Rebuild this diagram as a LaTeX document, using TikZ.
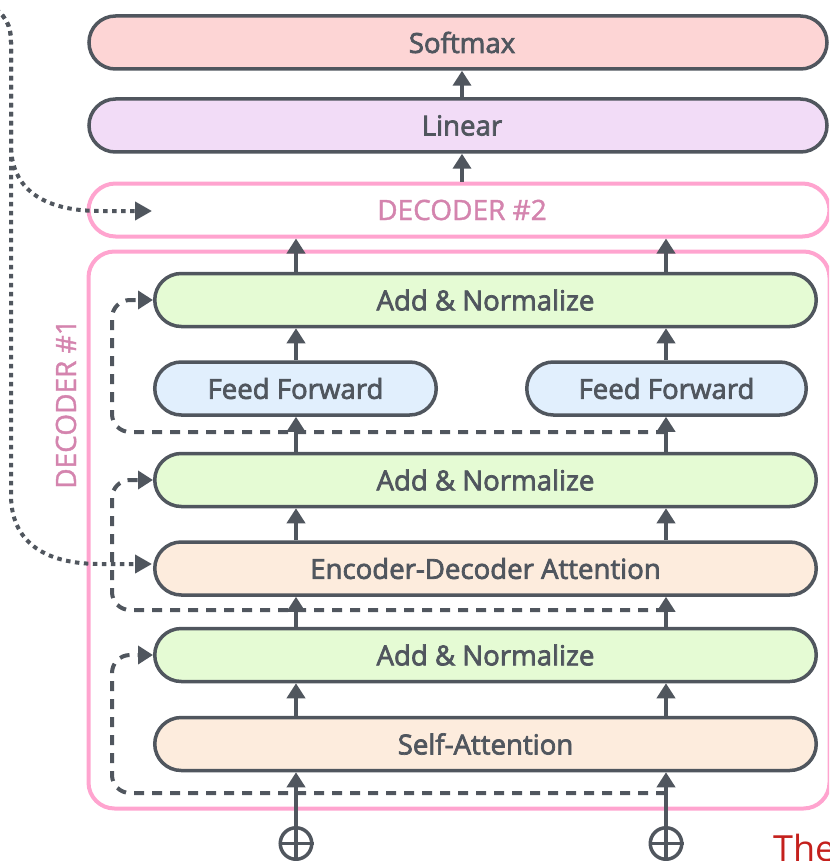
\documentclass[tikz,border=0pt]{standalone}
\usepackage{fontspec}
\setmainfont{Open Sans}
\newfontfamily\layerfont{Open Sans}[FakeBold=2.6]
\newfontfamily\labelfont{Open Sans}[FakeBold=1.4]
\usetikzlibrary{arrows.meta,calc}

\definecolor{ink}{HTML}{50565E}
\definecolor{softmaxfill}{HTML}{FDD5D5}
\definecolor{linearfill}{HTML}{F2DCF7}
\definecolor{normfill}{HTML}{E5FBD4}
\definecolor{fffill}{HTML}{E1EFFD}
\definecolor{attnfill}{HTML}{FDECDD}
\definecolor{decline}{HTML}{FFA4CF}
\definecolor{dectext}{HTML}{D484AE}
\definecolor{capred}{HTML}{C4201C}

\tikzset{
  layer/.style={draw=ink, line width=3.5pt, rounded corners=26.5pt,
    minimum height=53pt, inner sep=0pt, text=ink,
    font=\layerfont\fontsize{27.6}{32}\selectfont},
  decbox/.style={draw=decline, line width=4pt, inner sep=0pt},
  flow/.style={draw=ink, line width=4pt, -{Triangle[length=15pt,width=18pt]}},
  resid/.style={draw=ink, line width=4pt, dash pattern=on 10pt off 8pt,
    rounded corners=18pt, -{Triangle[length=15pt,width=18pt]}},
  dotline/.style={draw=ink, line width=4pt, dash pattern=on 4.5pt off 4.5pt,
    -{Triangle[length=17pt,width=18pt]}},
  addcirc/.style={circle, draw=ink, line width=3.5pt, minimum size=31.5pt,
    inner sep=0pt, fill=white},
  declabel/.style={text=dectext, font=\labelfont\fontsize{28}{32}\selectfont}
}

\begin{document}
\begin{tikzpicture}[x=1pt, y=-1pt]
\useasboundingbox (0,0) rectangle (829,861);
\clip (0,0) rectangle (829,861);

% column positions of the two token streams
\coordinate (colL) at (296,0);
\coordinate (colR) at (666,0);
\coordinate (colM) at (462,0);

% output head
\node[layer, fill=softmaxfill, minimum width=738pt] (softmax) at (458,42.5) {};
\node[text=ink, font=\layerfont\fontsize{27.6}{32}\selectfont] (softmaxtxt) at (462,42.5) {Softmax};
\node[layer, fill=linearfill, minimum width=738pt] (linear) at (458,125.5) {};
\node[text=ink, font=\layerfont\fontsize{27.6}{32}\selectfont] (lineartxt) at (462,125.5) {Linear};

% stacked decoders
\node[decbox, rounded corners=27pt, minimum width=741pt, minimum height=53pt, fill=white] (dec2) at (459,210) {};
\node[declabel] (dec2txt) at (462,210) {DECODER \#2};
\node[decbox, rounded corners=26pt, minimum width=741pt, minimum height=557pt] (dec1) at (459,530) {};
\node[declabel, rotate=90] (dec1txt) at (66,404) {DECODER \#1};

% decoder #1 sublayers
\node[layer, fill=normfill, minimum width=661.5pt] (norm3) at (485.5,300) {Add \& Normalize};
\node[layer, fill=fffill, minimum width=281.5pt] (ffL) at (295.5,388.5) {Feed Forward};
\node[layer, fill=fffill, minimum width=279.5pt] (ffR) at (666.5,388.5) {Feed Forward};
\node[layer, fill=normfill, minimum width=661.5pt] (norm2) at (485.5,480) {Add \& Normalize};
\node[layer, fill=attnfill, minimum width=661.5pt] (encdec) at (485.5,568.5) {Encoder-Decoder Attention};
\node[layer, fill=normfill, minimum width=661.5pt] (norm1) at (485.5,655) {Add \& Normalize};
\node[layer, fill=attnfill, minimum width=661.5pt] (selfatt) at (485.5,744) {Self-Attention};

% positional-encoding sums at the inputs
\node[addcirc] (plusL) at (296,843.5) {};
\node[addcirc] (plusR) at (666,843.5) {};
\foreach \p in {plusL,plusR} {
  \draw[ink, line width=3.5pt] (\p.north) -- (\p.south) (\p.west) -- (\p.east);
}

% residual connections
\coordinate (r1s) at (666,793);
\coordinate (r1c) at (112,793);
\coordinate (r2s) at (666,610);
\coordinate (r2c) at (112,610);
\coordinate (r3s) at (666,432);
\coordinate (r3c) at (112,432);
\draw[resid] (r1s) -- (r1c) |- (norm1.west);
\draw[resid] (r2s) -- (r2c) |- (norm2.west);
\draw[resid] (r3s) -- (r3c) |- (norm3.west);

% main data flow
\foreach \c in {colL,colR} {
  \draw[flow] (plusL.north -| \c) -- (selfatt.south -| \c);
  \draw[flow] (selfatt.north -| \c) -- (norm1.south -| \c);
  \draw[flow] (norm1.north -| \c) -- (encdec.south -| \c);
  \draw[flow] (encdec.north -| \c) -- (norm2.south -| \c);
  \draw[flow] (norm2.north -| \c) -- (ffL.south -| \c);
  \draw[flow] (ffL.north -| \c) -- (norm3.south -| \c);
  \draw[flow] (norm3.north -| \c) -- (dec2.south -| \c);
}
\draw[flow] (dec2.north -| colM) -- (linear.south -| colM);
\draw[flow] (linear.north -| colM) -- (softmax.south -| colM);

% encoder output fed into both decoders
\coordinate (encsrc) at (-12,4);
\coordinate (encbend) at (11,42);
\coordinate (d2in) at (152,211);
\coordinate (edin) at (152,564);
\draw[dotline] (encsrc) .. controls (6,14) and (11,26) .. (encbend)
  -- (11,145) .. controls (11,188) and (42,211) .. (100,211) -- (d2in);
\draw[dotline] (encsrc) .. controls (6,14) and (11,26) .. (encbend)
  -- (11,495) .. controls (11,540) and (42,564) .. (100,564) -- (edin);

% caption text running off the edge
\node[anchor=base west, inner sep=0pt, text=capred,
  font=\fontsize{36}{40}\selectfont] (caption) at (773,861) {The};
\end{tikzpicture}
\end{document}
